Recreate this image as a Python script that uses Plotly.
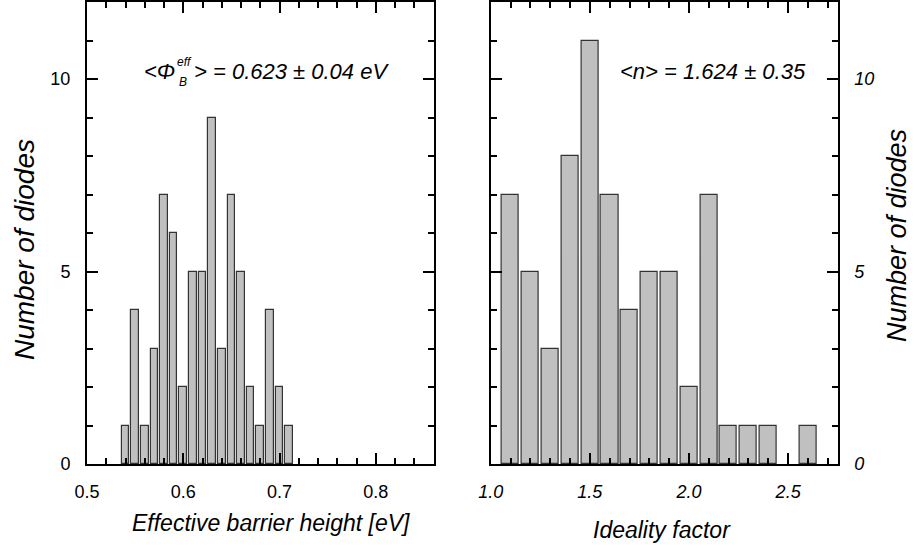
import plotly.graph_objects as go

# ---- data ----
barrier_centers = [0.54, 0.55, 0.56, 0.57, 0.58, 0.59, 0.60, 0.61, 0.62,
                   0.63, 0.64, 0.65, 0.66, 0.67, 0.68, 0.69, 0.70, 0.71]
barrier_counts = [1, 4, 1, 3, 7, 6, 2, 5, 5, 9, 3, 7, 5, 2, 1, 4, 2, 1]

ideality_centers = [1.1, 1.2, 1.3, 1.4, 1.5, 1.6, 1.7, 1.8, 1.9, 2.0,
                    2.1, 2.2, 2.3, 2.4, 2.6]
ideality_counts = [7, 5, 3, 8, 11, 7, 4, 5, 5, 2, 7, 1, 1, 1, 1]

W, H = 914, 552
FONT = "Liberation Sans"


def px(x):
    return x / W


def py(y):
    return 1 - y / H


fig = go.Figure()
bar_style = dict(marker=dict(color="#c0c0c0", line=dict(color="#333333", width=1.2)),
                 showlegend=False, hoverinfo="x+y")
fig.add_trace(go.Bar(x=barrier_centers, y=barrier_counts, width=0.0079,
                     xaxis="x", yaxis="y", **bar_style))
fig.add_trace(go.Bar(x=ideality_centers, y=ideality_counts, width=0.086,
                     xaxis="x2", yaxis="y2", **bar_style))

ydom = [py(464), py(2)]
common = dict(showline=True, linecolor="black", linewidth=2, mirror="allticks",
              ticks="inside", ticklen=11, tickwidth=1.5, tickcolor="black",
              showgrid=False, zeroline=False, automargin=False)
minor = dict(ticks="inside", ticklen=6, tickwidth=1.5, tickcolor="black", showgrid=False)

fig.update_layout(
    template="none",
    width=W, height=H, margin=dict(l=0, r=0, t=0, b=0, pad=0),
    paper_bgcolor="white", plot_bgcolor="white", bargap=0,
    font=dict(family=FONT, color="black"),
    xaxis=dict(domain=[px(87), px(433.5)], range=[0.5, 0.86], tick0=0.5, dtick=0.1,
               tickformat=".1f", minor=dict(dtick=0.02, **minor), anchor="y",
               ticklabelstandoff=10,
               tickfont=dict(size=18, family=FONT), **common),
    yaxis=dict(domain=ydom, range=[0, 12], tick0=0, dtick=5, anchor="x",
               minor=dict(dtick=1, **minor), ticklabelstandoff=11,
               tickfont=dict(size=18, family=FONT), **common),
    xaxis2=dict(domain=[px(490.7), px(837.7)], range=[1.0, 2.75], tick0=1.0, dtick=0.5,
                tickformat=".1f", minor=dict(dtick=0.1, **minor), anchor="y2",
                ticklabelstandoff=10,
                tickfont=dict(size=18, family=FONT, style="italic"), **common),
    yaxis2=dict(domain=ydom, range=[0, 12], tick0=0, dtick=5, anchor="x2", side="right",
                minor=dict(dtick=1, **minor), ticklabelstandoff=11,
                tickfont=dict(size=18, family=FONT, style="italic"), **common),
)

ann = []


def add(text, x, y, size, xanchor="center", yanchor="middle", angle=0):
    ann.append(dict(text=text, x=px(x), y=py(y), xref="paper", yref="paper",
                    xanchor=xanchor, yanchor=yanchor, showarrow=False, textangle=angle,
                    font=dict(size=size, family=FONT, style="italic", color="black")))


# axis titles
add("Effective barrier height [eV]", 271, 523, 23)
add("Ideality factor", 662, 530, 23)
add("Number of diodes", 24, 250, 28, angle=-90)
add("Number of diodes", 897, 236, 27, angle=-90)

# statistics labels
add("&lt;Φ", 177, 71, 22, xanchor="right")
add("eff", 175, 62, 12, xanchor="left")
add("B", 177, 82, 12, xanchor="left")
add("&gt; = 0.623 ± 0.04 eV", 192, 71, 22, xanchor="left")
add("&lt;n&gt; = 1.624 ± 0.35", 713, 71, 22)

fig.update_layout(annotations=ann)
fig.write_html("out.html")
